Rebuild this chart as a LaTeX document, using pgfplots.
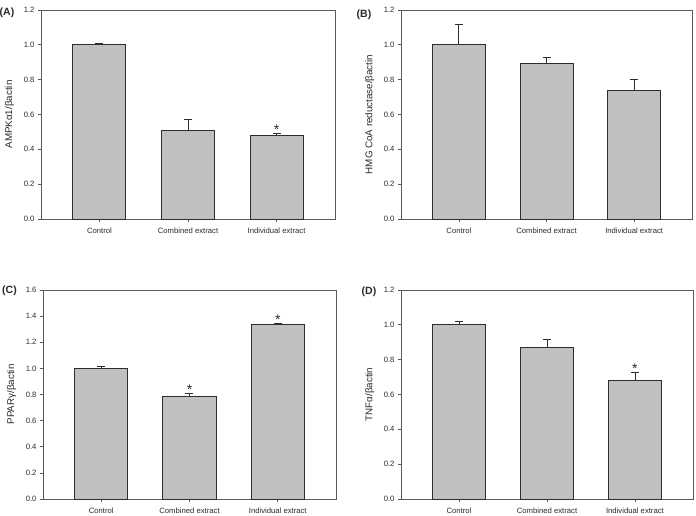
\documentclass[border=0pt]{standalone}
\usepackage{pgfplots}
\pgfplotsset{compat=1.18}
\usepackage{fontspec}
\setmainfont{Liberation Sans}

\definecolor{barfill}{HTML}{C0C0C0}
\definecolor{baredge}{HTML}{2E2E2E}
\definecolor{frame}{HTML}{5A5A5A}
\definecolor{txt}{HTML}{2A2A2A}

\pgfplotsset{
  panel/.style={
    scale only axis,
    height=209pt,
    ymin=0,
    xmin=-0.66, xmax=2.66,
    xtick={0,1,2},
    xticklabels={Control,Combined extract,Individual extract},
    tick align=outside,
    tick pos=left,
    major tick length=3pt,
    every tick/.style={draw=frame, line width=0.7pt},
    axis line style={draw=frame, line width=0.9pt},
    /pgf/number format/assume math mode=true,
    /pgf/number format/.cd, fixed, fixed zerofill, precision=1, /pgfplots/.cd,
    tick label style={font=\fontsize{7.7}{9}\selectfont, text=txt},
    xticklabel style={yshift=-2.5pt},
    ylabel style={at={(axis description cs:-0.107,0.5)}, anchor=center,
                  font=\fontsize{9.8}{11}\selectfont, text=txt},
  },
  bars/.style={
    ybar, bar width=53pt, bar shift=0pt,
    fill=barfill, draw=baredge, line width=1pt,
    error bars/.cd, y dir=plus, y explicit,
    error bar style={draw=baredge, line width=0.9pt},
    error mark options={rotate=90, draw=baredge, line width=0.9pt, mark size=4pt},
  },
  stars/.style={
    draw=none, mark=none,
    nodes near coords, point meta=explicit symbolic,
    every node near coord/.style={anchor=base, inner sep=0pt, yshift=-1pt,
      font=\fontsize{14}{16}\selectfont, text=txt},
  },
}

\begin{document}
\begin{tikzpicture}
\useasboundingbox (0,0) rectangle (696pt,515pt);

% (A) AMPK alpha1
\begin{axis}[panel, at={(41pt,296pt)}, anchor=south west, width=294pt,
  ymax=1.2, ytick={0,0.2,...,1.2}, ylabel={AMPKα1/βactin}]
  \addplot[bars] coordinates {(0,1.000) +- (0,0.010) (1,0.506) +- (0,0.063) (2,0.478) +- (0,0.013)};
  \addplot[stars] coordinates {(2,0.491) [*]};
\end{axis}

% (B) HMG CoA reductase
\begin{axis}[panel, at={(401pt,296pt)}, anchor=south west, width=291pt,
  ymax=1.2, ytick={0,0.2,...,1.2}, ylabel={HMG CoA reductase/βactin}]
  \addplot[bars] coordinates {(0,1.003) +- (0,0.115) (1,0.890) +- (0,0.039) (2,0.738) +- (0,0.061)};
\end{axis}

% (C) PPAR gamma
\begin{axis}[panel, at={(43pt,16pt)}, anchor=south west, width=293pt,
  ymax=1.6, ytick={0,0.2,...,1.6}, ylabel={PPARγ/βactin}]
  \addplot[bars] coordinates {(0,0.998) +- (0,0.017) (1,0.783) +- (0,0.022) (2,1.334) +- (0,0.013)};
  \addplot[stars] coordinates {(1,0.805) [*] (2,1.347) [*]};
\end{axis}

% (D) TNF alpha
\begin{axis}[panel, at={(401pt,16pt)}, anchor=south west, width=292pt,
  ymax=1.2, ytick={0,0.2,...,1.2}, ylabel={TNFα/βactin}]
  \addplot[bars] coordinates {(0,1.000) +- (0,0.020) (1,0.869) +- (0,0.048) (2,0.682) +- (0,0.044)};
  \addplot[stars] coordinates {(2,0.726) [*]};
\end{axis}

% panel letters
\begin{scope}[every node/.style={font=\bfseries\fontsize{10.5}{12}\selectfont, text=txt, inner sep=0pt}]
  \node at (7pt,502pt) {(A)};
  \node at (364pt,500pt) {(B)};
  \node at (9.5pt,224pt) {(C)};
  \node at (369pt,223pt) {(D)};
\end{scope}
\end{tikzpicture}
\end{document}
